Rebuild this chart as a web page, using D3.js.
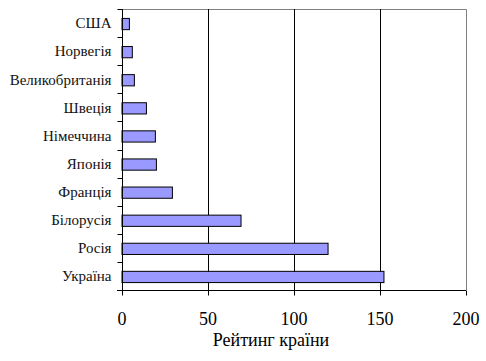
<html>
<head>
<meta charset="utf-8">
<script src="https://d3js.org/d3.v7.min.js"></script>
<style>
  body { margin: 0; background: #fff; }
  text { font-family: "Liberation Serif", "DejaVu Serif", serif; }
</style>
</head>
<body>
<svg id="vis"></svg>
<script>
  // countries, top to bottom
  const countries = ['США', 'Норвегія', 'Великобританія', 'Швеція', 'Німеччина',
                     'Японія', 'Франція', 'Білорусія', 'Росія', 'Україна'];
  const ratings = [4.3, 6, 7.2, 14.2, 19.4, 20, 29.3, 69.2, 119.8, 152.3];
  const xTicks = [0, 50, 100, 150, 200];
  const xTitle = 'Рейтинг країни';

  const width = 486, height = 361;
  const plotL = 122, plotR = 466, plotT = 9, plotB = 290;

  const svg = d3.select('#vis').attr('width', width).attr('height', height);

  const x = d3.scaleLinear().domain([0, 200]).range([plotL, plotR]);
  const y = d3.scaleBand().domain(countries).range([plotT, plotB]);

  // plot border (top & right grey)
  svg.append('path')
    .attr('d', `M${plotL},${plotT + 0.5}H${plotR + 0.5}V${plotB}`)
    .attr('fill', 'none')
    .attr('stroke', '#808080')
    .attr('stroke-width', 1);

  // vertical gridlines
  svg.selectAll('.grid')
    .data(xTicks.filter(d => d > 0 && d < 200))
    .enter().append('line')
    .attr('x1', d => Math.round(x(d)) + 0.5)
    .attr('x2', d => Math.round(x(d)) + 0.5)
    .attr('y1', plotT)
    .attr('y2', plotB)
    .attr('stroke', 'black');

  // bars
  const barH = y.bandwidth() * 0.4;
  svg.selectAll('.bar')
    .data(countries)
    .enter().append('rect')
    .attr('x', x(0))
    .attr('y', d => y(d) + (y.bandwidth() - barH) / 2 + 1)
    .attr('width', (d, i) => x(ratings[i]) - x(0))
    .attr('height', barH)
    .attr('fill', '#9999ff')
    .attr('stroke', 'black')
    .attr('stroke-width', 1);

  // y axis
  const yAxis = svg.append('g')
    .attr('transform', `translate(${plotL + 0.5},0)`);
  yAxis.append('line')
    .attr('y1', plotT).attr('y2', plotB + 4)
    .attr('stroke', 'black');
  yAxis.selectAll('.tick')
    .data(countries.concat(['_end']))
    .enter().append('line')
    .attr('x1', -5).attr('x2', 0)
    .attr('y1', (d, i) => Math.round(plotT + i * y.step()) + 0.5)
    .attr('y2', (d, i) => Math.round(plotT + i * y.step()) + 0.5)
    .attr('stroke', 'black');
  yAxis.selectAll('.lbl')
    .data(countries)
    .enter().append('text')
    .attr('x', -11)
    .attr('y', d => y(d) + y.bandwidth() / 2)
    .attr('dy', '0.35em')
    .attr('text-anchor', 'end')
    .attr('font-size', 15)
    .attr('fill', '#111')
    .text(d => d);

  // x axis
  const xAxis = svg.append('g')
    .attr('transform', `translate(0,${plotB + 0.5})`);
  xAxis.append('line')
    .attr('x1', plotL - 5).attr('x2', plotR)
    .attr('stroke', 'black');
  xAxis.selectAll('.xt')
    .data(xTicks)
    .enter().append('line')
    .attr('x1', d => Math.round(x(d)) + 0.5)
    .attr('x2', d => Math.round(x(d)) + 0.5)
    .attr('y1', 0).attr('y2', 5)
    .attr('stroke', 'black');
  xAxis.selectAll('.xl')
    .data(xTicks)
    .enter().append('text')
    .attr('x', d => x(d))
    .attr('y', 34)
    .attr('text-anchor', 'middle')
    .attr('font-size', 18)
    .text(d => d);

  svg.append('text')
    .attr('x', 271)
    .attr('y', 346)
    .attr('text-anchor', 'middle')
    .attr('font-size', 18)
    .text(xTitle);
</script>
</body>
</html>
